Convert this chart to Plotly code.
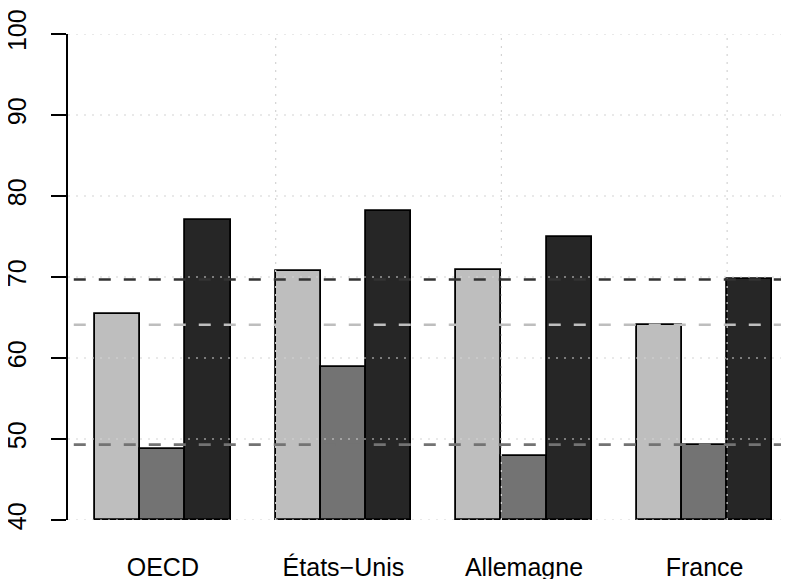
import plotly.graph_objects as go

# ---- data ----
categories = ["OECD", "États\u2212Unis", "Allemagne", "France"]
series_names = ["Série 1", "Série 2", "Série 3"]
serie_1 = [65.4, 70.8, 70.9, 64.1]
serie_2 = [48.8, 58.9, 47.9, 49.3]
serie_3 = [77.0, 78.2, 74.9, 69.7]
ref_values = [64.1, 49.3, 69.7]   # dashed reference lines (France level)
y_ticks = [40, 50, 60, 70, 80, 90, 100]

# ---- styling ----
colors = ["#BEBEBE", "#737373", "#262626"]
line_colors = ["#BEBEBE", "#737373", "#333333"]
FONT = "Liberation Sans, Arial, Helvetica, sans-serif"
y_min, y_max = 40, 100

series = [serie_1, serie_2, serie_3]
n_series = len(series)
group_w = n_series + 1  # R barplot: space=c(0,1)

fig = go.Figure()
for j, (vals, name) in enumerate(zip(series, series_names)):
    xs = [1 + group_w * i + j + 0.5 for i in range(len(categories))]
    fig.add_trace(go.Bar(
        x=xs, y=[v - y_min for v in vals], base=y_min, width=1,
        name=name, marker=dict(color=colors[j], line=dict(color="black", width=1.8)),
        customdata=vals, hovertemplate="%{customdata}<extra>" + name + "</extra>",
        showlegend=False,
    ))

group_centers = [1 + group_w * i + n_series / 2 for i in range(len(categories))]
x_lo = 0.4
x_hi = 16.37

shapes = []
grid_style = dict(color="#D3D3D3", width=1.2, dash="2px,6px")
for yv in y_ticks:
    shapes.append(dict(type="line", xref="paper", x0=0, x1=1, yref="y", y0=yv, y1=yv,
                       line=grid_style, layer="above"))
for xv in range(5, int(x_hi) + 1, 5):
    shapes.append(dict(type="line", xref="x", x0=xv, x1=xv, yref="y", y0=y_min, y1=y_max,
                       line=grid_style, layer="above"))
for j, rv in enumerate(ref_values):
    shapes.append(dict(type="line", xref="paper", x0=0.008, x1=1, yref="y", y0=rv, y1=rv,
                       line=dict(color=line_colors[j], width=2.6, dash="12px,13px"),
                       layer="above"))

# page body has an 8px margin: figure is sized/offset to compensate
fig.update_layout(
    width=781, height=571,
    margin=dict(l=60, r=0, t=26, b=59, autoexpand=False),
    paper_bgcolor="white", plot_bgcolor="white",
    barmode="overlay", bargap=0,
    font=dict(family=FONT, size=25, color="black"),
    shapes=shapes,
    xaxis=dict(range=[x_lo, x_hi], tickvals=group_centers, ticktext=categories,
               ticks="", showgrid=False, zeroline=False, showline=False,
               ticklabelstandoff=30, tickfont=dict(size=25), automargin=False),
    yaxis=dict(range=[y_min, y_max], tickvals=y_ticks, tickangle=-90,
               ticks="outside", ticklen=15, tickwidth=1.5, tickcolor="black",
               showline=True, linecolor="black", linewidth=1.5,
               showgrid=False, zeroline=False, tickfont=dict(size=25),
               ticklabelstandoff=15, automargin=False),
)

fig.write_html("out.html")
